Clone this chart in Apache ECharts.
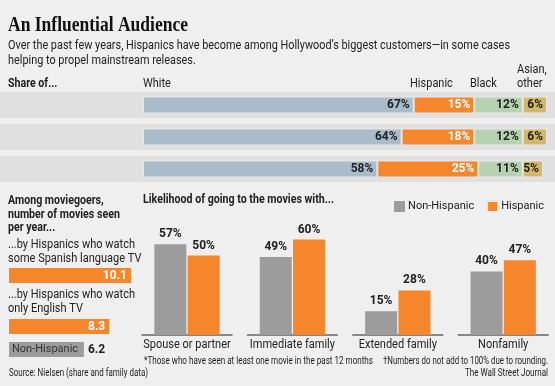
<!DOCTYPE html>
<html><head><meta charset="utf-8">
<script src="https://cdn.jsdelivr.net/npm/echarts@6/dist/echarts.min.js"></script>
<style>html,body{margin:0;padding:0;background:#efefef}#c{width:555px;height:386px}</style>
</head><body><div id="c"></div>
<script>
// ---- data ----
const shareRows = ['...the U.S. population over age 12', '...moviegoers*', '...all movie tickets sold†'];
const shareGroups = ['White', 'Hispanic', 'Black', 'Asian, other'];
const shareWhite = [67, 64, 58];
const shareHispanic = [15, 18, 25];
const shareBlack = [12, 12, 11];
const shareAsian = [6, 6, 5];

const moviesCats = ['...by Hispanics who watch some Spanish language TV', '...by Hispanics who watch only English TV', 'Non-Hispanic'];
const moviesValues = [10.1, 8.3, 6.2];

const likeCats = ['Spouse or partner', 'Immediate family', 'Extended family', 'Nonfamily'];
const likeNonHispanic = [57, 49, 15, 40];
const likeHispanic = [50, 60, 28, 47];

// ---- styles ----
const BODY = 'Roboto, "Liberation Sans", sans-serif';
const BG = '#efefef', BAND = '#e0e0e0';
const C_WHITE = '#a8bccb', C_HISP = '#f6862b', C_BLACK = '#b6d3b1', C_ASIAN = '#d3b76a', C_GRAY = '#9c9c9c';
const INK = '#222';

const chart = echarts.init(document.getElementById('c'), null, {renderer: 'canvas'});

const grids = [], xAxes = [], yAxes = [], series = [];
function addGrid(g, x, y) { grids.push(g); const i = grids.length - 1; xAxes.push(Object.assign({gridIndex: i}, x)); yAxes.push(Object.assign({gridIndex: i}, y)); return i; }
const hiddenVal = {type: 'value', show: false, splitLine: {show: false}};

// top: background bands
let gi = addGrid({left: 0, right: 0, top: 89, height: 96},
  Object.assign({}, hiddenVal, {min: 0, max: 1}),
  {type: 'category', data: shareRows, inverse: true, show: false});
series.push({type: 'bar', xAxisIndex: gi, yAxisIndex: gi, data: shareRows.map(() => 1), barWidth: 26,
  itemStyle: {color: BAND}, silent: true, z: 1});

// top: stacked share bars
gi = addGrid({left: 143, width: 404, top: 89, height: 96},
  Object.assign({}, hiddenVal, {min: 0, max: 100}),
  {type: 'category', data: shareRows, inverse: true, show: false});
[[shareWhite, C_WHITE, INK], [shareHispanic, C_HISP, '#fff'], [shareBlack, C_BLACK, INK], [shareAsian, C_ASIAN, INK]].forEach((s, k) => {
  series.push({type: 'bar', name: shareGroups[k], stack: 'share', xAxisIndex: gi, yAxisIndex: gi, data: s[0], barWidth: 17, z: 3,
    itemStyle: {color: s[1], borderColor: '#e8e8e8', borderWidth: 1},
    label: {show: true, position: 'insideRight', distance: 4, formatter: '{c}%', color: s[2], fontFamily: BODY, fontWeight: 'bold', fontSize: 12}});
});

// bottom-left: movies per year
const mvTops = [268, 319, 342];
const mvGrids = [];
moviesValues.forEach((v, i) => {
  const g = addGrid({left: 9, width: 122, top: mvTops[i], height: 15},
    Object.assign({}, hiddenVal, {min: 0, max: 10.1}),
    {type: 'category', data: [moviesCats[i]], show: false});
  mvGrids.push(g);
  const last = i === moviesValues.length - 1;
  series.push({type: 'bar', xAxisIndex: g, yAxisIndex: g, data: [v], barWidth: 15,
    itemStyle: {color: last ? C_GRAY : C_HISP},
    label: last
      ? {show: true, position: 'insideLeft', distance: 3, formatter: '{b}', color: '#333', fontFamily: BODY, fontSize: 11}
      : {show: true, position: 'insideRight', distance: 4, formatter: '{c}', color: '#fff', fontFamily: BODY, fontWeight: 'bold', fontSize: 12}});
  if (last) {
    series.push({type: 'bar', xAxisIndex: g, yAxisIndex: g, data: [v], barWidth: 15, barGap: '-100%',
      itemStyle: {color: 'transparent'},
      label: {show: true, position: 'right', distance: 4, formatter: '{c}', color: INK, fontFamily: BODY, fontWeight: 'bold', fontSize: 12}});
  }
});

// bottom-right: likelihood grouped bars
const likeGrids = [];
likeCats.forEach((c, i) => {
  const g = addGrid({left: 142 + i * 105.4, width: 90, top: 176, height: 159},
    {type: 'category', data: [c], axisTick: {show: false},
     axisLine: {lineStyle: {color: '#666', width: 1.5}},
     axisLabel: {show: false}},
    Object.assign({}, hiddenVal, {min: 0, max: 100}));
  likeGrids.push(g);
  [['Non-Hispanic', likeNonHispanic, C_GRAY], ['Hispanic', likeHispanic, C_HISP]].forEach(s => {
    series.push({type: 'bar', name: s[0], xAxisIndex: g, yAxisIndex: g, data: [s[1][i]], barWidth: 32, barGap: '4%',
      itemStyle: {color: s[2]},
      label: {show: true, position: 'top', distance: 4, formatter: '{c}%', color: INK, fontFamily: BODY, fontWeight: 'bold', fontSize: 12}});
  });
});

chart.setOption({
  backgroundColor: BG,
  animation: false,
  grid: grids, xAxis: xAxes, yAxis: yAxes, series: series,
  legend: {data: ['Non-Hispanic', 'Hispanic'], right: 6, top: 195, icon: 'rect', itemWidth: 11, itemHeight: 11, itemGap: 12,
    selectedMode: false, textStyle: {fontFamily: BODY, fontSize: 11, color: INK, padding: [0, 0, 0, -2]}}
});

// ---- text (condensed via scaleX to mimic the narrow original face) ----
const mctx = document.createElement('canvas').getContext('2d');
function tw(text, font) { mctx.font = font; return mctx.measureText(text).width; }
const SX = 0.88;
function T(text, x, y, font, o) {
  o = o || {};
  let sx = o.sx || SX;
  if (o.w) sx = o.w / tw(text, font);
  const al = o.align || 'left';
  return {type: 'text', x: x, y: y, scaleX: sx, silent: true,
    style: {text: text, font: font, fill: o.fill || INK, align: al, textAlign: al, verticalAlign: 'middle', textVerticalAlign: 'middle'}};
}
const fb = '12.5px ' + BODY, fbb = 'bold 12.5px ' + BODY, fsm = '10px ' + BODY, fsup = '8px ' + BODY;
const SUB1 = 'Over the past few years, Hispanics have become among Hollywood\u2019s biggest customers\u2014in some cases';
const graphics = [
  T('An Influential Audience', 8, 25.5, 'bold 21px "Liberation Serif", serif', {w: 180, fill: '#111'}),
  T(SUB1, 8, 46, fb, {w: 502}),
  T('helping to propel mainstream releases.', 8, 61, fb, {sx: 502 / tw(SUB1, fb)}),
  T('Share of...', 8, 84, fbb, {sx: 0.85}),
  T(shareGroups[0], 143, 84, fb),
  T(shareGroups[1], 410, 84, fb),
  T(shareGroups[2], 470, 84, fb),
  T('Asian,', 517, 70, fb),
  T('other', 517, 84, fb),
  T('...the U.S. population over', 8, 99.5, fb),
  T('age 12', 8, 111.5, fb),
  T('...moviegoers', 8, 137.5, fb),
  T('*', 8 + tw('...moviegoers', fb) * SX + 1, 134.5, fsup),
  T('...all movie tickets sold', 8, 169, fb),
  T('\u2020', 8 + tw('...all movie tickets sold', fb) * SX + 1, 166, fsup),
  T('Among moviegoers,', 8, 201, fbb, {sx: 0.85}),
  T('number of movies seen', 8, 214.5, fbb, {sx: 0.85}),
  T('per year...', 8, 228, fbb, {sx: 0.85}),
  T('...by Hispanics who watch', 8, 245, fb),
  T('some Spanish language TV', 8, 258.5, fb),
  T('...by Hispanics who watch', 8, 295, fb),
  T('only English TV', 8, 308.5, fb),
  T('Likelihood of going to the movies with...', 143, 200, fbb, {w: 191}),
  T('*Those who have seen at least one movie in the past 12 months', 144, 361.5, fsm, {w: 229}),
  T('\u2020Numbers do not add to 100% due to rounding.', 548, 361.5, fsm, {w: 165, align: 'right'}),
  T('The Wall Street Journal', 548, 373.5, fsm, {w: 83, align: 'right'}),
  T('Source: Nielsen (share and family data)', 9, 373.5, fsm, {w: 139})
];
// category labels of the likelihood chart, placed through the chart's own scales
likeCats.forEach((c, i) => {
  const p = chart.convertToPixel({gridIndex: likeGrids[i]}, [c, 0]);
  graphics.push(T(c, p[0], p[1] + 9.5, fb, {align: 'center'}));
});
chart.setOption({graphic: graphics});
</script>
</body></html>
